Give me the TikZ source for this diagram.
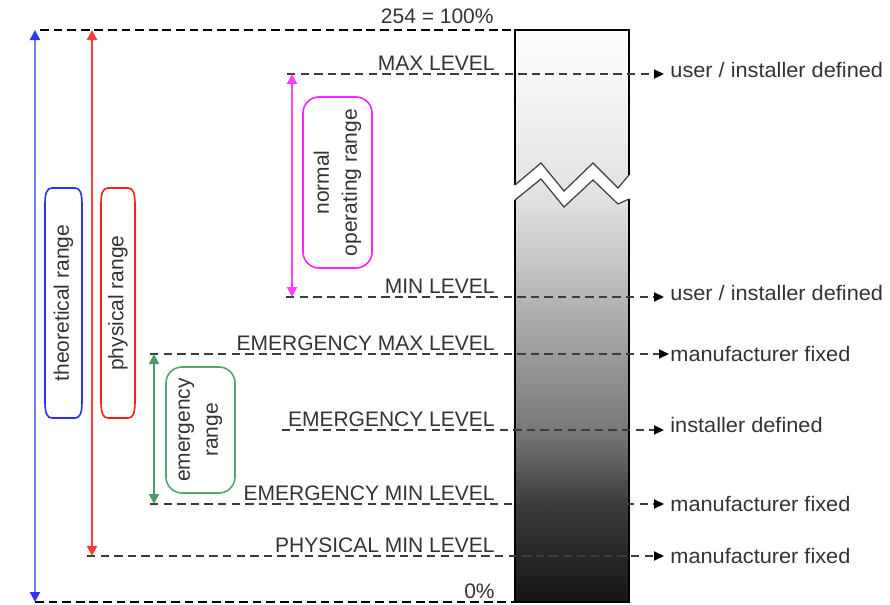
\documentclass[tikz,border=0pt]{standalone}
\usepackage{fontspec}
\setmainfont{Liberation Sans}
\usetikzlibrary{arrows.meta}

\definecolor{txt}{HTML}{333333}
\definecolor{lvlgray}{HTML}{3C3C3C}
\definecolor{thline}{HTML}{7C7CFF}
\definecolor{thtip}{HTML}{3333FF}
\definecolor{thbox}{HTML}{2E2EFF}
\definecolor{phline}{HTML}{FF3A3A}
\definecolor{phbox}{HTML}{FF1E1E}
\definecolor{noline}{HTML}{FF40FF}
\definecolor{nobox}{HTML}{FF22FF}
\definecolor{emline}{HTML}{4E9A68}
\definecolor{embox}{HTML}{5AA474}

% gray ramp of the level bar (25bp = bottom, 75bp = top)
\colorlet{sh0}{black!92}
\colorlet{sh1}{black!77}
\colorlet{sh2}{black!53}
\colorlet{sh3}{black!29}
\colorlet{sh4}{black!12}
\pgfdeclareverticalshading{barshade}{100bp}{%
  color(0bp)=(sh0); color(25bp)=(sh0); color(33.5bp)=(sh1);
  color(40bp)=(sh2); color(51.5bp)=(sh3); color(60bp)=(sh4);
  color(75bp)=(white); color(100bp)=(white)}

% tall capsule outline: style, x1, y1, x2, y2
\newcommand\capsuleoutline[5]{%
  \draw[#1] (#2,#3+16) .. controls (#2,#3+5) and (#2+2,#3) .. (#2+7,#3)
    -- (#4-7,#3) .. controls (#4-2,#3) and (#4,#3+5) .. (#4,#3+16)
    -- (#4,#5-16) .. controls (#4,#5-5) and (#4-2,#5) .. (#4-7,#5)
    -- (#2+7,#5) .. controls (#2+2,#5) and (#2,#5-5) .. (#2,#5-16) -- cycle;}

\begin{document}
\begin{tikzpicture}[x=0.5pt,y=-0.5pt,
  lbl/.style={text=txt, font=\fontsize{10.5}{14}\selectfont, inner sep=0pt},
  who/.style={lbl, anchor=base west, xscale=1.035},
  lvl/.style={draw=lvlgray, line width=1pt, dash pattern=on 4.2pt off 2.6pt},
  lvlarrow/.style={lvl, -{Triangle[length=5pt,width=4.5pt,color=black]}},
  edge/.style={draw=black, line width=1.2pt, dash pattern=on 4.4pt off 2.4pt},
  rangearrow/.style={line width=1pt,
    {Triangle[length=5pt,width=5pt,color=#1]}-{Triangle[length=5pt,width=5pt,color=#1]}},
]
\useasboundingbox (0,0) rectangle (890,605);

% ---------- level bar with a break ----------
\def\upperpart{(515,30) -- (629,30) -- (629,175) -- (618,188) -- (593,163)
  -- (564,191) -- (541,163) -- (515,185) -- cycle}
\def\lowerpart{(515,200) -- (541,179) -- (564,207) -- (593,180) -- (618,204)
  -- (629,199) -- (629,602) -- (515,602) -- cycle}
\begin{scope}
  \clip \upperpart;
  \shade[shading=barshade] (515,30) rectangle (629,602);
\end{scope}
\begin{scope}
  \clip \lowerpart;
  \shade[shading=barshade] (515,30) rectangle (629,602);
\end{scope}
\draw[black, line width=1pt] (515,185) -- (515,30) -- (629,30) -- (629,175);
\draw[black, line width=1pt] (515,200) -- (515,602) -- (629,602) -- (629,199);
\draw[lvlgray, line width=0.6pt] (629,175) -- (618,188) -- (593,163) -- (564,191)
  -- (541,163) -- (515,185);
\draw[lvlgray, line width=0.6pt] (515,200) -- (541,179) -- (564,207) -- (593,180)
  -- (618,204) -- (629,199);

% ---------- end points of the level lines ----------
\coordinate (topL) at (40,30);   \coordinate (topR) at (515,30);
\coordinate (botL) at (35,602);  \coordinate (botR) at (515,602);
\coordinate (maxL) at (287,74);  \coordinate (maxR) at (664,74);
\coordinate (minL) at (286,297); \coordinate (minR) at (664,297);
\coordinate (emaxL) at (150,354); \coordinate (emaxR) at (669,354);
\coordinate (emL) at (282,430);  \coordinate (emR) at (664,430);
\coordinate (eminL) at (150,504); \coordinate (eminR) at (664,504);
\coordinate (phL) at (87,556);   \coordinate (phR) at (664,556);

% ---------- dashed level lines ----------
\draw[edge] (topL) -- (topR);
\draw[edge] (botL) -- (botR);
\draw[lvlarrow] (maxL) -- (maxR);
\draw[lvlarrow] (minL) -- (minR);
\draw[lvlarrow] (emaxL) -- (emaxR);
\draw[lvlarrow] (emL) -- (emR);
\draw[lvlarrow] (eminL) -- (eminR);
\draw[lvlarrow] (phL) -- (phR);

% ---------- level names ----------
\node[lbl, anchor=base east] (t100) at (494,24) {254 = 100\%};
\node[lbl, anchor=base east] (tmax) at (495,70) {MAX LEVEL};
\node[lbl, anchor=base east] (tmin) at (495,293) {MIN LEVEL};
\node[lbl, anchor=base east] (temax) at (495,350) {EMERGENCY MAX LEVEL};
\node[lbl, anchor=base east] (tem) at (495,426) {EMERGENCY LEVEL};
\node[lbl, anchor=base east] (temin) at (495,500) {EMERGENCY MIN LEVEL};
\node[lbl, anchor=base east] (tph) at (495,552) {PHYSICAL MIN LEVEL};
\node[lbl, anchor=base east] (t0) at (495,598) {0\%};

% ---------- who sets each level ----------
\node[who] (rmax) at (670,77) {user / installer defined};
\node[who] (rmin) at (670,300) {user / installer defined};
\node[who] (remax) at (670,361) {manufacturer fixed};
\node[who] (rem) at (670,432) {installer defined};
\node[who] (remin) at (670,511) {manufacturer fixed};
\node[who] (rph) at (670,563) {manufacturer fixed};

% ---------- ranges ----------
\coordinate (thTop) at (35,30);  \coordinate (thBot) at (35,602);
\coordinate (phTop) at (92,30);  \coordinate (phBot) at (92,556);
\coordinate (noTop) at (292,74); \coordinate (noBot) at (292,297);
\coordinate (emTop) at (154,354); \coordinate (emBot) at (154,504);
\draw[rangearrow=thtip, draw=thline] (thTop) -- (thBot);
\draw[rangearrow=phline, draw=phline] (phTop) -- (phBot);
\draw[rangearrow=noline, draw=noline] (noTop) -- (noBot);
\draw[rangearrow=emline, draw=emline] (emTop) -- (emBot);

\capsuleoutline{thbox, line width=0.8pt}{45}{188}{82}{418}
\capsuleoutline{phbox, line width=0.8pt}{101}{188}{135}{418}
\node[lbl, rotate=90] (theo) at (63.5,303) {theoretical range};
\node[lbl, rotate=90] (phys) at (118,303) {physical range};

\node[lbl, draw=nobox, line width=0.8pt, rounded corners=8pt, rotate=90,
  align=center, minimum width=85.5pt, minimum height=34.5pt]
  (norm) at (337.5,182.5) {normal\\operating range};
\node[lbl, draw=embox, line width=0.8pt, rounded corners=8pt, rotate=90,
  align=center, minimum width=63pt, minimum height=34.5pt]
  (emer) at (200.5,430) {emergency\\range};
\end{tikzpicture}
\end{document}
